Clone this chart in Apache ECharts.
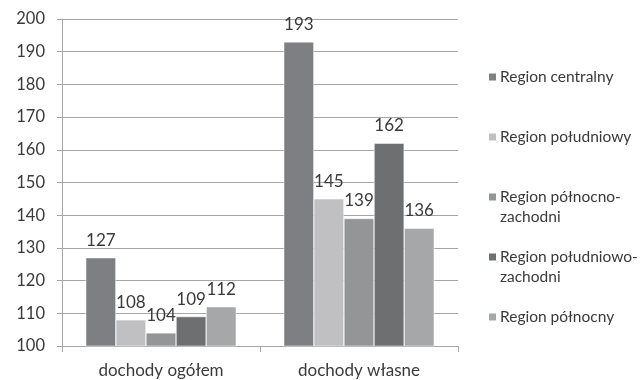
<!DOCTYPE html>
<html>
<head>
<meta charset="utf-8">
<script src="https://cdn.jsdelivr.net/npm/echarts@6/dist/echarts.min.js"></script>
<style>
  html, body { margin: 0; padding: 0; background: #fff; }
  #chart { width: 643px; height: 380px; }
</style>
</head>
<body>
<div id="chart"></div>
<script>
// Income indices by region
const categories = ['dochody ogółem', 'dochody własne'];
const regionNames = [
  'Region centralny',
  'Region południowy',
  'Region północno-zachodni',
  'Region południowo-zachodni',
  'Region północny'
];
// legend labels, with the line breaks used in the legend
const legendLabels = [
  '\nRegion centralny\n',
  '\nRegion południowy\n',
  '\nRegion północno-\nzachodni',
  '\nRegion południowo-\nzachodni',
  '\nRegion północny\n'
];
const centralny = [127, 193];
const poludniowy = [108, 145];
const polnocnoZachodni = [104, 139];
const poludniowoZachodni = [109, 162];
const polnocny = [112, 136];
const yTicks = { min: 100, max: 200, step: 10 };

const seriesValues = [centralny, poludniowy, polnocnoZachodni, poludniowoZachodni, polnocny];
const colors = ['#7e7f83', '#c0c0c2', '#949597', '#6e6f71', '#a6a7a9'];
const textColor = '#3a3a3a';
const font = 'Lato, "Open Sans", sans-serif';

const chart = echarts.init(document.getElementById('chart'), null, { renderer: 'canvas' });

chart.setOption({
  animation: false,
  backgroundColor: '#fff',
  color: colors,
  grid: { left: 62, right: 185, top: 19, bottom: 34 },
  legend: {
    orient: 'vertical',
    left: 487,
    top: 47,
    padding: 0,
    itemWidth: 9,
    itemHeight: 9,
    itemGap: 0,
    icon: 'rect',
    data: regionNames,
    formatter: function (name) {
      return legendLabels[regionNames.indexOf(name)];
    },
    textStyle: { color: textColor, fontSize: 15.5, fontFamily: font, lineHeight: 20, padding: [0, 0, 0, -2] }
  },
  xAxis: {
    type: 'category',
    data: categories,
    axisLine: { lineStyle: { color: '#a6a6a6', width: 1 } },
    axisTick: { show: true, length: 6, lineStyle: { color: '#a6a6a6' } },
    axisLabel: { color: textColor, fontSize: 17, fontFamily: font, margin: 16 },
    splitLine: { show: false }
  },
  yAxis: {
    type: 'value',
    min: yTicks.min,
    max: yTicks.max,
    interval: yTicks.step,
    axisLine: { show: true, lineStyle: { color: '#a6a6a6', width: 1 } },
    axisTick: { show: true, length: 5, lineStyle: { color: '#a6a6a6' } },
    axisLabel: { color: textColor, fontSize: 16.5, fontFamily: font, margin: 17 },
    splitLine: { show: true, lineStyle: { color: '#a6a6a6', width: 1 } }
  },
  series: regionNames.map(function (name, i) {
    return {
      name: name,
      type: 'bar',
      data: seriesValues[i],
      barGap: '0%',
      barCategoryGap: '24%',
      itemStyle: { color: colors[i], borderColor: '#ffffff', borderWidth: 0.5 },
      label: {
        show: true,
        position: 'top',
        distance: 9,
        color: textColor,
        fontSize: 17,
        fontFamily: font
      }
    };
  })
});
</script>
</body>
</html>
